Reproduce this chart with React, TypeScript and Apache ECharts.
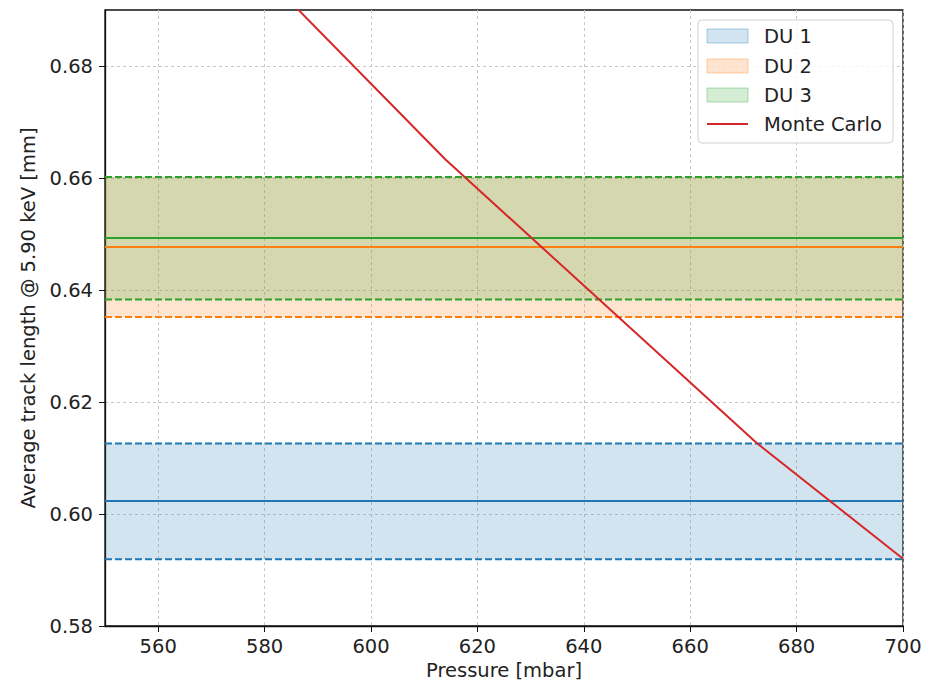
import React, { useEffect, useRef } from "react";
import * as echarts from "echarts";

const xTicks = [560, 580, 600, 620, 640, 660, 680, 700];
const yTicks = [0.58, 0.6, 0.62, 0.64, 0.66, 0.68];
const pressureRange = [550, 700];
const lengthRange = [0.58, 0.69];
const duNames = ["DU 1", "DU 2", "DU 3"];
const duCenter = [0.6023, 0.6477, 0.6493];
const duLow = [0.5919, 0.6352, 0.6383];
const duHigh = [0.6126, 0.6602, 0.6602];
const mcPressure = [575, 614, 672.6, 700];
const mcLength = [0.701, 0.6633, 0.6126, 0.592];
const duColors = ["#1f77b4", "#ff7f0e", "#2ca02c"];
const duFills = ["rgba(31,119,180,0.2)", "rgba(255,127,14,0.2)", "rgba(44,160,44,0.2)"];
const mcColor = "#d62728";
const FONT = "DejaVu Sans";
const FS = 19.5;

function hline(v: number) {
  return [
    [pressureRange[0], v],
    [pressureRange[1], v],
  ];
}

export default function App() {
  const ref = useRef<HTMLDivElement>(null);
  useEffect(() => {
    if (!ref.current) return;
    const chart = echarts.init(ref.current, null, { renderer: "svg" });
    const series: any[] = [];
    duNames.forEach((n, i) => {
      series.push({
        name: n + " band",
        type: "line",
        data: hline(duCenter[i]),
        symbol: "none",
        lineStyle: { width: 0, opacity: 0 },
        z: 1,
        silent: true,
        markArea: {
          silent: true,
          itemStyle: { color: duFills[i] },
          data: [[{ yAxis: duLow[i] }, { yAxis: duHigh[i] }]],
        },
      });
    });
    duNames.forEach((n, i) => {
      series.push({
        name: n,
        type: "line",
        data: hline(duCenter[i]),
        symbol: "none",
        lineStyle: { color: duColors[i], width: 2 },
        z: 3,
      });
      series.push({
        name: n + " low",
        type: "line",
        data: hline(duLow[i]),
        symbol: "none",
        lineStyle: { color: duColors[i], width: 2, type: [7, 3] },
        z: 3,
      });
      series.push({
        name: n + " high",
        type: "line",
        data: hline(duHigh[i]),
        symbol: "none",
        lineStyle: { color: duColors[i], width: 2, type: [7, 3] },
        z: 3,
      });
    });
    series.push({
      name: "Monte Carlo",
      type: "line",
      data: mcPressure.map((p, i) => [p, mcLength[i]]),
      symbol: "none",
      clip: true,
      lineStyle: { color: mcColor, width: 2 },
      z: 4,
    });

    const legendY = [36, 66, 95, 124];
    const graphic: any[] = [
      {
        type: "rect",
        shape: { x: 698, y: 20, width: 195, height: 123, r: 4 },
        style: { fill: "rgba(255,255,255,0.8)", stroke: "#d0d0d0", lineWidth: 1 },
        z: 10,
      },
    ];
    duNames.forEach((n, i) => {
      graphic.push({
        type: "rect",
        shape: { x: 707, y: legendY[i] - 7, width: 41, height: 14 },
        style: { fill: duFills[i], stroke: duFills[i].replace("0.2)", "0.35)"), lineWidth: 1 },
        z: 11,
      });
      graphic.push({
        type: "text",
        x: 764,
        y: legendY[i],
        style: { text: n, fontSize: FS, fontFamily: FONT, fill: "#222", verticalAlign: "middle" },
        z: 11,
      });
    });
    graphic.push({
      type: "line",
      shape: { x1: 707, y1: legendY[3], x2: 748, y2: legendY[3] },
      style: { stroke: mcColor, lineWidth: 2 },
      z: 11,
    });
    graphic.push({
      type: "text",
      x: 764,
      y: legendY[3],
      style: { text: "Monte Carlo", fontSize: FS, fontFamily: FONT, fill: "#222", verticalAlign: "middle" },
      z: 11,
    });

    chart.setOption({
      animation: false,
      backgroundColor: "#fff",
      grid: {
        left: 105,
        right: 23,
        top: 10,
        bottom: 55,
        containLabel: false,
        outerBoundsMode: "none",
        show: true,
        borderColor: "#111",
        borderWidth: 1.3,
        backgroundColor: "transparent",
      },
      xAxis: {
        type: "value",
        min: pressureRange[0],
        max: pressureRange[1],
        name: "Pressure [mbar]",
        nameLocation: "middle",
        nameGap: 33,
        nameTextStyle: { fontSize: FS, fontFamily: FONT, color: "#222" },
        axisLine: { show: true, onZero: false, lineStyle: { color: "#111", width: 1.3 } },
        axisTick: { show: true, length: 6, lineStyle: { color: "#111" }, customValues: xTicks },
        axisLabel: {
          customValues: xTicks,
          fontSize: FS,
          fontFamily: FONT,
          color: "#222",
          margin: 10,
        },
        splitLine: { show: true, lineStyle: { color: "#c8c8c8", type: [3, 3], width: 1 } },
      },
      yAxis: {
        type: "value",
        min: lengthRange[0],
        max: lengthRange[1],
        name: "Average track length @ 5.90 keV [mm]",
        nameLocation: "middle",
        nameGap: 64,
        nameTextStyle: { fontSize: FS, fontFamily: FONT, color: "#222" },
        axisLine: { show: true, onZero: false, lineStyle: { color: "#111", width: 1.3 } },
        axisTick: { show: true, length: 6, lineStyle: { color: "#111" }, customValues: yTicks },
        axisLabel: {
          customValues: yTicks,
          fontSize: FS,
          fontFamily: FONT,
          color: "#222",
          margin: 12,
          formatter: (v: number) => v.toFixed(2),
        },
        splitLine: { show: true, lineStyle: { color: "#c8c8c8", type: [3, 3], width: 1 } },
      },
      series,
      graphic,
    });
    return () => chart.dispose();
  }, []);
  return <div ref={ref} style={{ width: 926, height: 681, position: "absolute", left: 0, top: 0 }} />;
}
